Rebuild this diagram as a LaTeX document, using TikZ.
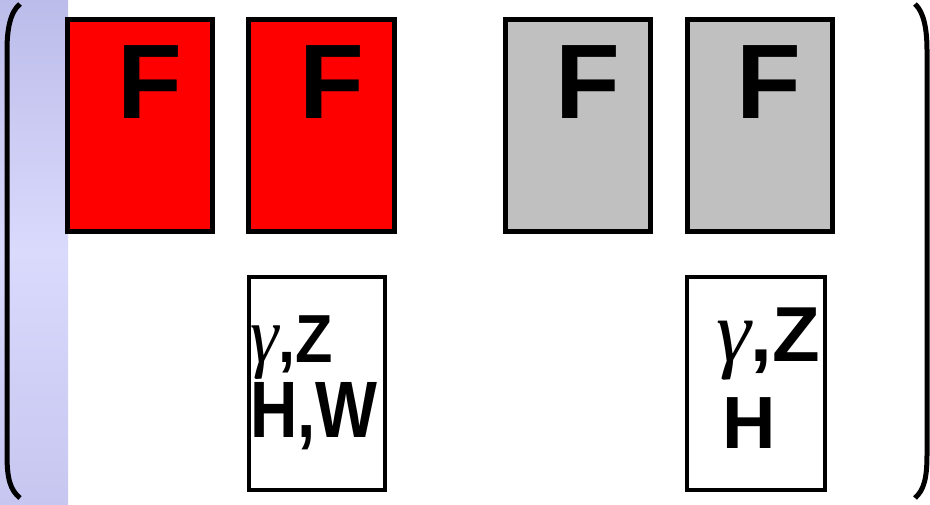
\documentclass[tikz,border=0pt]{standalone}
\usepackage{fontspec}
\setmainfont{Liberation Sans}
\newfontfamily\grk{Liberation Serif}
\definecolor{stripTop}{RGB}{188,188,234}
\definecolor{stripMid}{RGB}{218,218,253}
\definecolor{stripBot}{RGB}{198,198,240}
\definecolor{boxGray}{RGB}{192,192,192}
\tikzset{
  fbox/.style={draw=black,line width=5pt,inner sep=0pt},
  wbox/.style={draw=black,fill=white,line width=4pt,inner sep=0pt},
  bigF/.style={font=\fontsize{106}{106}\selectfont\bfseries,inner sep=0pt,anchor=base},
  lbl/.style={inner sep=0pt,anchor=base west},
  paren/.style={line width=5pt,black}
}
\newcommand{\gam}[1]{{\grk\itshape\fontsize{#1}{#1}\selectfont γ}}
\begin{document}
\begin{tikzpicture}[x=1pt,y=-1pt]
\useasboundingbox (0,0) rectangle (930,504);
% left gradient strip
\shade[top color=stripTop,bottom color=stripMid] (0,0) rectangle (68,252.5);
\shade[top color=stripMid,bottom color=stripBot] (0,252) rectangle (68,504);
% top boxes
\draw[fbox,fill=red] (67.5,19.5) rectangle (212.5,231.5);
\draw[fbox,fill=red] (248.5,19.5) rectangle (394.5,231.5);
\draw[fbox,fill=boxGray] (505.5,19.5) rectangle (650.5,231.5);
\draw[fbox,fill=boxGray] (687.5,19.5) rectangle (832.5,231.5);
\node[bigF] (f1) at (149.5,118) {F};
\node[bigF] (f2) at (331.5,118) {F};
\node[bigF] (f3) at (588,118) {F};
\node[bigF] (f4) at (769,118) {F};
% lower white boxes
\draw[wbox] (249,277) rectangle (385,490);
\draw[wbox] (687,277) rectangle (825,490);
\node[lbl] (t1) at (250,362) {\scalebox{0.9}[1]{\gam{80}\fontsize{68}{68}\selectfont\bfseries,Z}};
\node[lbl] (t2) at (250,437) {\scalebox{0.82}[1]{\fontsize{80}{80}\selectfont\bfseries H,W}};
\node[lbl] (t3) at (716,361) {\gam{88}\fontsize{78}{78}\selectfont\bfseries,Z};
\node[lbl] (t4) at (722,448) {\fontsize{74}{74}\selectfont\bfseries H};
% parentheses
\draw[paren] (20,4) .. controls (10,12) and (7,30) .. (7,50) -- (7,455) .. controls (7,478) and (10,490) .. (20,498);
\draw[paren] (915,4) .. controls (924,12) and (927,30) .. (927,50) -- (927,455) .. controls (927,478) and (924,490) .. (915,498);
\end{tikzpicture}
\end{document}
